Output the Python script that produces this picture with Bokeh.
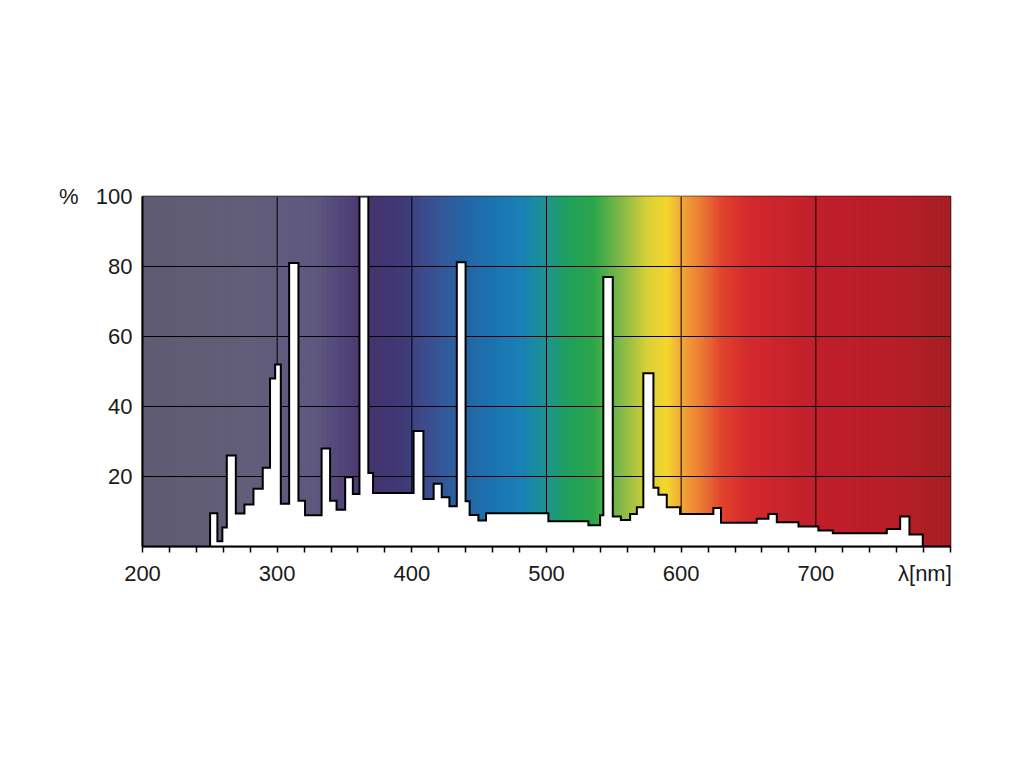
import numpy as np
from bokeh.plotting import figure
from bokeh.models import FixedTicker, Range1d, LinearAxis
from bokeh.embed import file_html
from bokeh.resources import INLINE

# ---- data ----
edges_nm = [250.2, 255.6, 259.3, 262.6, 269.3, 275.7, 282.4, 289.3, 294.7, 298.5,
            302.7, 308.9, 315.8, 320.7, 333.0, 339.3, 344.1, 350.5, 356.2, 361.1,
            367.7, 371.2, 401.3, 408.6, 416.2, 422.2, 427.9, 433.4, 439.9, 442.9,
            449.4, 455.1, 501.4, 531.1, 539.8, 542.2, 549.2, 555.2, 562.1, 567.1,
            571.9, 579.4, 583.1, 589.3, 599.2, 623.9, 629.6, 656.1, 664.8, 671.0,
            687.1, 701.9, 712.6, 752.7, 762.6, 769.5, 779.4]
heights_pct = [9.5, 1.5, 5.4, 26.0, 9.4, 12.0, 16.5, 22.5, 48.0, 52.0,
               12.2, 81.0, 13.1, 8.9, 28.0, 13.1, 10.5, 19.8, 15.0, 100.0,
               21.0, 15.3, 33.0, 13.6, 17.9, 14.1, 11.5, 81.2, 12.9, 9.0,
               7.4, 9.5, 7.2, 6.1, 8.9, 77.0, 8.6, 7.6, 9.3, 11.2,
               49.5, 16.8, 14.8, 11.2, 9.3, 11.0, 6.8, 7.9, 9.3, 6.9,
               5.7, 4.6, 3.8, 5.0, 8.6, 3.4]

x_tick_values = [200, 300, 400, 500, 600, 700]
x_unit_label = "λ[nm]"
x_unit_pos = 781
x_minor_ticks = list(range(200, 801, 20))
y_ticks = [20, 40, 60, 80, 100]
y_unit_label = "%"
x_grid = [300, 400, 500, 600, 700]
y_grid = [20, 40, 60, 80]

# spectrum background colour stops
stop_nm = [200, 280, 330, 350, 370, 395, 410, 430, 450, 480, 500, 515, 535,
           555, 575, 590, 600, 615, 630, 650, 700, 760, 800]
stop_col = ["#5f5c73", "#625e7a", "#5e5880", "#514478", "#45336e", "#3f3a78",
            "#3d4c8e", "#2d5e9e", "#1e6dab", "#1a7fb8", "#1c9393", "#1fa05e",
            "#2aa64a", "#80b848", "#d8d038", "#f4d72c", "#f2a83a", "#ec7c34",
            "#e2442e", "#d42a2c", "#c01f2a", "#b81e28", "#a61e24"]

FONT = "Liberation Sans"
FSIZE = "22px"
TXT = "#1a1a1a"

p = figure(frame_width=808, frame_height=350, min_border_left=142,
           min_border_top=196, min_border_right=66, min_border_bottom=190,
           x_range=Range1d(200, 800), y_range=Range1d(0, 100),
           output_backend="svg", toolbar_location=None, tools="")
p.background_fill_color = "white"
p.border_fill_color = "white"
p.outline_line_color = "black"
p.outline_line_width = 1.5
p.xgrid.visible = False
p.ygrid.visible = False

# gradient background
def hex2rgb(h):
    return np.array([int(h[i:i + 2], 16) for i in (1, 3, 5)], dtype=float)

rgb = np.array([hex2rgb(c) for c in stop_col])
xs = np.arange(200, 800, 1.0)
cols = []
for x in xs + 0.5:
    r = np.interp(x, stop_nm, rgb[:, 0])
    g = np.interp(x, stop_nm, rgb[:, 1])
    b = np.interp(x, stop_nm, rgb[:, 2])
    cols.append("#%02x%02x%02x" % (int(r), int(g), int(b)))
p.quad(left=xs, right=xs + 1, bottom=0, top=100, fill_color=cols,
       line_color=cols, line_width=1)

# grid lines (under the white area)
p.segment(x0=x_grid, x1=x_grid, y0=0, y1=100, line_color="black", line_width=1)
p.segment(x0=200, x1=800, y0=y_grid, y1=y_grid, line_color="black", line_width=1)

# step outline coordinates
sx = [edges_nm[0]]
sy = [0]
for i, h in enumerate(heights_pct):
    sx += [edges_nm[i], edges_nm[i + 1]]
    sy += [h, h]
sx.append(edges_nm[-1])
sy.append(0)

# white area as one patch, then outline
p.patch(sx, sy, fill_color="white", line_color=None)
p.line(sx, sy, line_color="black", line_width=2, line_join="miter")

# x axis: labels at major ticks (tick marks drawn as minor ticks)
p.xaxis.ticker = FixedTicker(ticks=x_tick_values + [x_unit_pos],
                             minor_ticks=x_minor_ticks)
p.xaxis.major_label_overrides = {x_unit_pos: x_unit_label}
p.yaxis.ticker = FixedTicker(ticks=y_ticks)
for ax in (p.xaxis, p.yaxis):
    ax.axis_line_color = "black"
    ax.axis_line_width = 2
    ax.major_label_text_font = FONT
    ax.major_label_text_font_size = FSIZE
    ax.major_label_text_color = TXT
    ax.major_tick_in = 0
    ax.minor_tick_in = 0
p.xaxis.major_tick_out = 6
p.xaxis.minor_tick_out = 6
p.xaxis.major_tick_line_color = None
p.xaxis.minor_tick_line_color = "black"
p.xaxis.minor_tick_line_width = 1.5
p.xaxis.major_label_standoff = 8
p.yaxis.major_tick_out = 0
p.yaxis.minor_tick_out = 0
p.yaxis.major_tick_line_color = None
p.yaxis.minor_tick_line_color = None
p.yaxis.major_label_standoff = 10

# "%" unit as a second, bare left axis with a single label at 100
pct_axis = LinearAxis(ticker=FixedTicker(ticks=[100]),
                      major_label_overrides={100: y_unit_label},
                      axis_line_color=None, major_tick_line_color=None,
                      minor_tick_line_color=None, major_tick_out=0,
                      minor_tick_out=0, major_tick_in=0, minor_tick_in=0,
                      major_label_standoff=14,
                      major_label_text_font=FONT,
                      major_label_text_font_size=FSIZE,
                      major_label_text_color=TXT)
p.add_layout(pct_axis, "left")

open("out.html", "w").write(file_html(p, INLINE))
